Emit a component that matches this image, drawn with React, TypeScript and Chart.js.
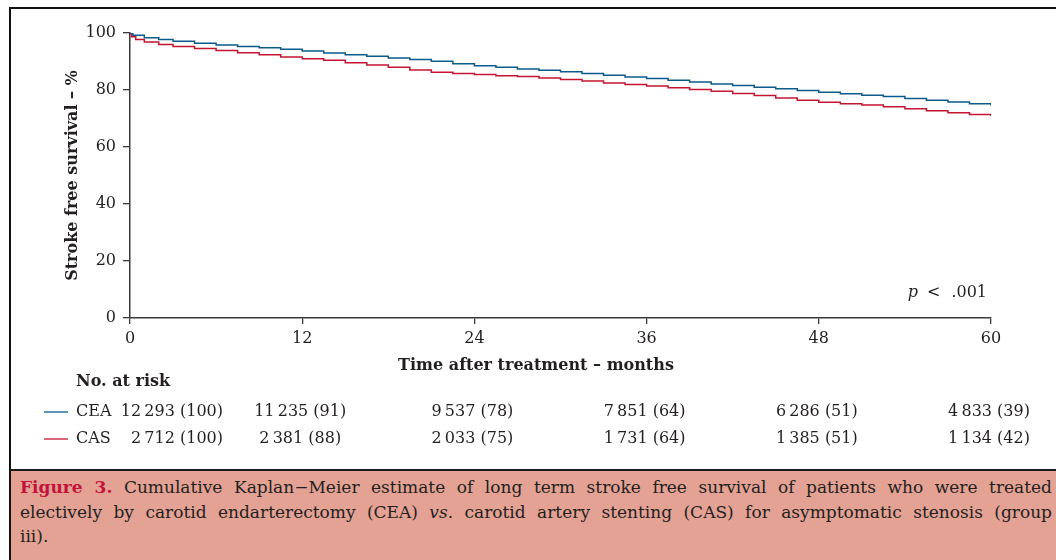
import React, { useEffect, useLayoutEffect, useRef } from 'react';
import { Chart, registerables } from 'chart.js';

Chart.register(...registerables);

// ---------- data ----------
const ceaMonths = [0, 0.2, 1, 2, 3, 4.5, 6, 7.5, 9, 10.5, 12, 13.5, 15, 16.5, 18, 19.5, 21, 22.5, 24, 25.5, 27, 28.5, 30, 31.5, 33, 34.5, 36, 37.5, 39, 40.5, 42, 43.5, 45, 46.5, 48, 49.5, 51, 52.5, 54, 55.5, 57, 58.5, 60];
const ceaSurvival = [100, 99.2, 98.3, 97.7, 97.1, 96.4, 95.8, 95.3, 94.8, 94.3, 93.7, 93.0, 92.4, 91.8, 91.2, 90.7, 90.1, 89.2, 88.5, 88.0, 87.4, 86.9, 86.4, 85.8, 85.2, 84.6, 84.0, 83.4, 82.8, 82.1, 81.6, 81.0, 80.4, 79.8, 79.2, 78.7, 78.2, 77.7, 77.0, 76.4, 75.8, 75.2, 74.6];

const casMonths = [0, 0.1, 0.4, 1, 2, 3, 4.5, 6, 7.5, 9, 10.5, 12, 13.5, 15, 16.5, 18, 19.5, 21, 22.5, 24, 25.5, 27, 28.5, 30, 31.5, 33, 34.5, 36, 37.5, 39, 40.5, 42, 43.5, 45, 46.5, 48, 49.5, 51, 52.5, 54, 55.5, 57, 58.5, 60];
const casSurvival = [100, 98.7, 97.7, 96.8, 96.0, 95.3, 94.6, 93.9, 93.1, 92.4, 91.6, 91.0, 90.4, 89.6, 88.8, 88.0, 87.0, 86.2, 85.8, 85.4, 85.0, 84.7, 84.2, 83.7, 83.2, 82.5, 81.9, 81.4, 80.8, 80.2, 79.6, 78.8, 78.1, 77.2, 76.4, 75.7, 75.2, 74.7, 74.1, 73.4, 72.7, 72.0, 71.4, 70.9];

const riskTimes = [0, 12, 24, 36, 48, 60];
const ceaAtRisk = ['12\u2009293 (100)', '11\u2009235 (91)', '9\u2009537 (78)', '7\u2009851 (64)', '6\u2009286 (51)', '4\u2009833 (39)'];
const casAtRisk = ['2\u2009712 (100)', '2\u2009381 (88)', '2\u2009033 (75)', '1\u2009731 (64)', '1\u2009385 (51)', '1\u2009134 (42)'];
const groupNames = ['CEA', 'CAS'];

const xTickStep = 12;
const yTickStep = 20;
const yAxisTitle = 'Stroke free survival \u2013 %';
const xAxisTitle = 'Time after treatment \u2013 months';
const riskHeader = 'No. at risk';
const pText = '.001';

// ---------- styles ----------
const BLUE = '#0a5b8c';
const RED = '#c4142f';
const AXIS = '#3a3a3a';
const TEXT = '#231f20';
const SERIF = '"DejaVu Serif", serif';

const riskPlugin = {
  id: 'riskTable',
  afterDraw(chart: any) {
    const { ctx, chartArea } = chart;
    const x = chart.scales.x;
    ctx.save();
    ctx.fillStyle = TEXT;
    ctx.textBaseline = 'middle';

    // x-axis title (centred on the figure)
    ctx.font = `bold 16px ${SERIF}`;
    ctx.textAlign = 'center';
    ctx.fillText(xAxisTitle, chart.width / 2 + 8, chartArea.bottom + 48);

    // p value
    const py = chartArea.bottom - 25;
    ctx.font = `16px ${SERIF}`;
    ctx.textAlign = 'right';
    let px = chartArea.right - 4;
    ctx.fillText(pText, px, py);
    px -= ctx.measureText(pText).width + 11;
    ctx.fillText('<', px, py);
    px -= ctx.measureText('<').width + 9;
    ctx.font = `italic 16px ${SERIF}`;
    ctx.fillText('p', px, py);

    // risk table
    ctx.textAlign = 'left';
    ctx.font = `bold 16px ${SERIF}`;
    ctx.fillText(riskHeader, 76, chartArea.bottom + 64);

    const rows = [ceaAtRisk, casAtRisk];
    const colors = [BLUE, RED];
    rows.forEach((row, r) => {
      const y = chartArea.bottom + 94 + r * 27;
      ctx.strokeStyle = colors[r];
      ctx.lineWidth = 1.3;
      ctx.beginPath();
      ctx.moveTo(44, y);
      ctx.lineTo(68, y);
      ctx.stroke();
      ctx.font = `16px ${SERIF}`;
      ctx.fillStyle = TEXT;
      ctx.textAlign = 'left';
      ctx.fillText(groupNames[r], 76, y);
      row.forEach((txt, i) => {
        if (i === 0) {
          ctx.textAlign = 'right';
          ctx.fillText(txt, 223, y);
        } else {
          ctx.textAlign = 'center';
          ctx.fillText(txt, x.getPixelForValue(riskTimes[i]) - 2, y);
        }
      });
    });
    ctx.restore();
  },
};

function KMChart() {
  const ref = useRef<HTMLCanvasElement | null>(null);
  useEffect(() => {
    if (!ref.current) return;
    const chart = new Chart(ref.current, {
      type: 'line',
      data: {
        datasets: [
          {
            label: groupNames[0],
            data: ceaMonths.map((m, i) => ({ x: m, y: ceaSurvival[i] })),
            borderColor: BLUE,
            borderWidth: 1.5,
            pointRadius: 0,
            stepped: 'before',
            fill: false,
          },
          {
            label: groupNames[1],
            data: casMonths.map((m, i) => ({ x: m, y: casSurvival[i] })),
            borderColor: RED,
            borderWidth: 1.5,
            pointRadius: 0,
            stepped: 'before',
            fill: false,
          },
        ],
      },
      options: {
        animation: false,
        responsive: false,
        events: [],
        layout: { padding: { top: 33, right: 65, bottom: 90, left: 0 } },
        plugins: { legend: { display: false }, tooltip: { enabled: false }, title: { display: false } },
        scales: {
          x: {
            type: 'linear',
            min: 0,
            max: 60,
            afterFit: (s: any) => { s.height = 60; },
            ticks: { stepSize: xTickStep, color: TEXT, font: { family: SERIF, size: 16 }, padding: 5, maxRotation: 0 },
            grid: { display: true, drawOnChartArea: false, drawTicks: true, tickLength: 6, color: AXIS, lineWidth: 1.3 },
            border: { display: true, color: AXIS, width: 1.5 },
            title: { display: false },
          },
          y: {
            type: 'linear',
            min: 0,
            max: 100,
            afterFit: (s: any) => { s.width = 130; },
            ticks: { stepSize: yTickStep, color: TEXT, font: { family: SERIF, size: 16 }, padding: 7 },
            grid: { display: true, drawOnChartArea: false, drawTicks: true, tickLength: 7, color: AXIS, lineWidth: 1.3 },
            border: { display: true, color: AXIS, width: 1.5 },
            title: { display: true, text: yAxisTitle, color: TEXT, font: { family: SERIF, size: 16, weight: 'bold' }, padding: { top: 63, bottom: 0 } },
          },
        },
      } as any,
      plugins: [riskPlugin],
    });
    return () => chart.destroy();
  }, []);
  return (
    <canvas
      ref={ref}
      width={1056}
      height={468}
      style={{ position: 'absolute', left: 0, top: 0, width: 1056, height: 468 }}
    />
  );
}

const CAPTION_WIDTH = 1032;

function Caption() {
  const l1 = useRef<HTMLSpanElement | null>(null);
  const l2 = useRef<HTMLSpanElement | null>(null);
  useLayoutEffect(() => {
    [l1, l2].forEach((r) => {
      const el = r.current;
      if (!el) return;
      el.style.wordSpacing = '0px';
      el.style.transform = 'none';
      const w = el.getBoundingClientRect().width;
      const spaces = (el.textContent || '').split(' ').length - 1;
      if (w <= 0) return;
      if (w < CAPTION_WIDTH && spaces > 0) {
        el.style.wordSpacing = `${(CAPTION_WIDTH - w) / spaces}px`;
      } else if (w > CAPTION_WIDTH) {
        el.style.transform = `scaleX(${CAPTION_WIDTH / w})`;
      }
    });
  }, []);
  const lineStyle: React.CSSProperties = {
    display: 'inline-block',
    whiteSpace: 'nowrap',
    transformOrigin: '0 0',
  };
  return (
    <div
      style={{
        position: 'absolute',
        left: 11,
        top: 469,
        width: 1100,
        height: 100,
        background: '#e4a294',
        borderTop: '2px solid #1a1a1a',
        boxSizing: 'border-box',
        paddingTop: 4,
        paddingLeft: 9,
        fontFamily: '"DejaVu Serif", serif',
        fontSize: 17,
        lineHeight: '24.5px',
        color: TEXT,
      }}
    >
      <div><span ref={l1} style={lineStyle}><b style={{ color: '#c0143a' }}>Figure 3.</b> Cumulative Kaplan{'\u2212'}Meier estimate of long term stroke free survival of patients who were treated</span></div>
      <div><span ref={l2} style={lineStyle}>electively by carotid endarterectomy (CEA) <i>vs.</i> carotid artery stenting (CAS) for asymptomatic stenosis (group</span></div>
      <div><span style={lineStyle}>iii).</span></div>
    </div>
  );
}

export default function App() {
  return (
    <div style={{ position: 'absolute', left: 0, top: 0, width: 1056, height: 560, overflow: 'hidden', background: '#fff' }}>
      <div style={{ position: 'absolute', left: 9, top: 7, width: 1200, height: 700, borderLeft: '2px solid #111', borderTop: '2px solid #111' }} />
      <KMChart />
      <Caption />
    </div>
  );
}
